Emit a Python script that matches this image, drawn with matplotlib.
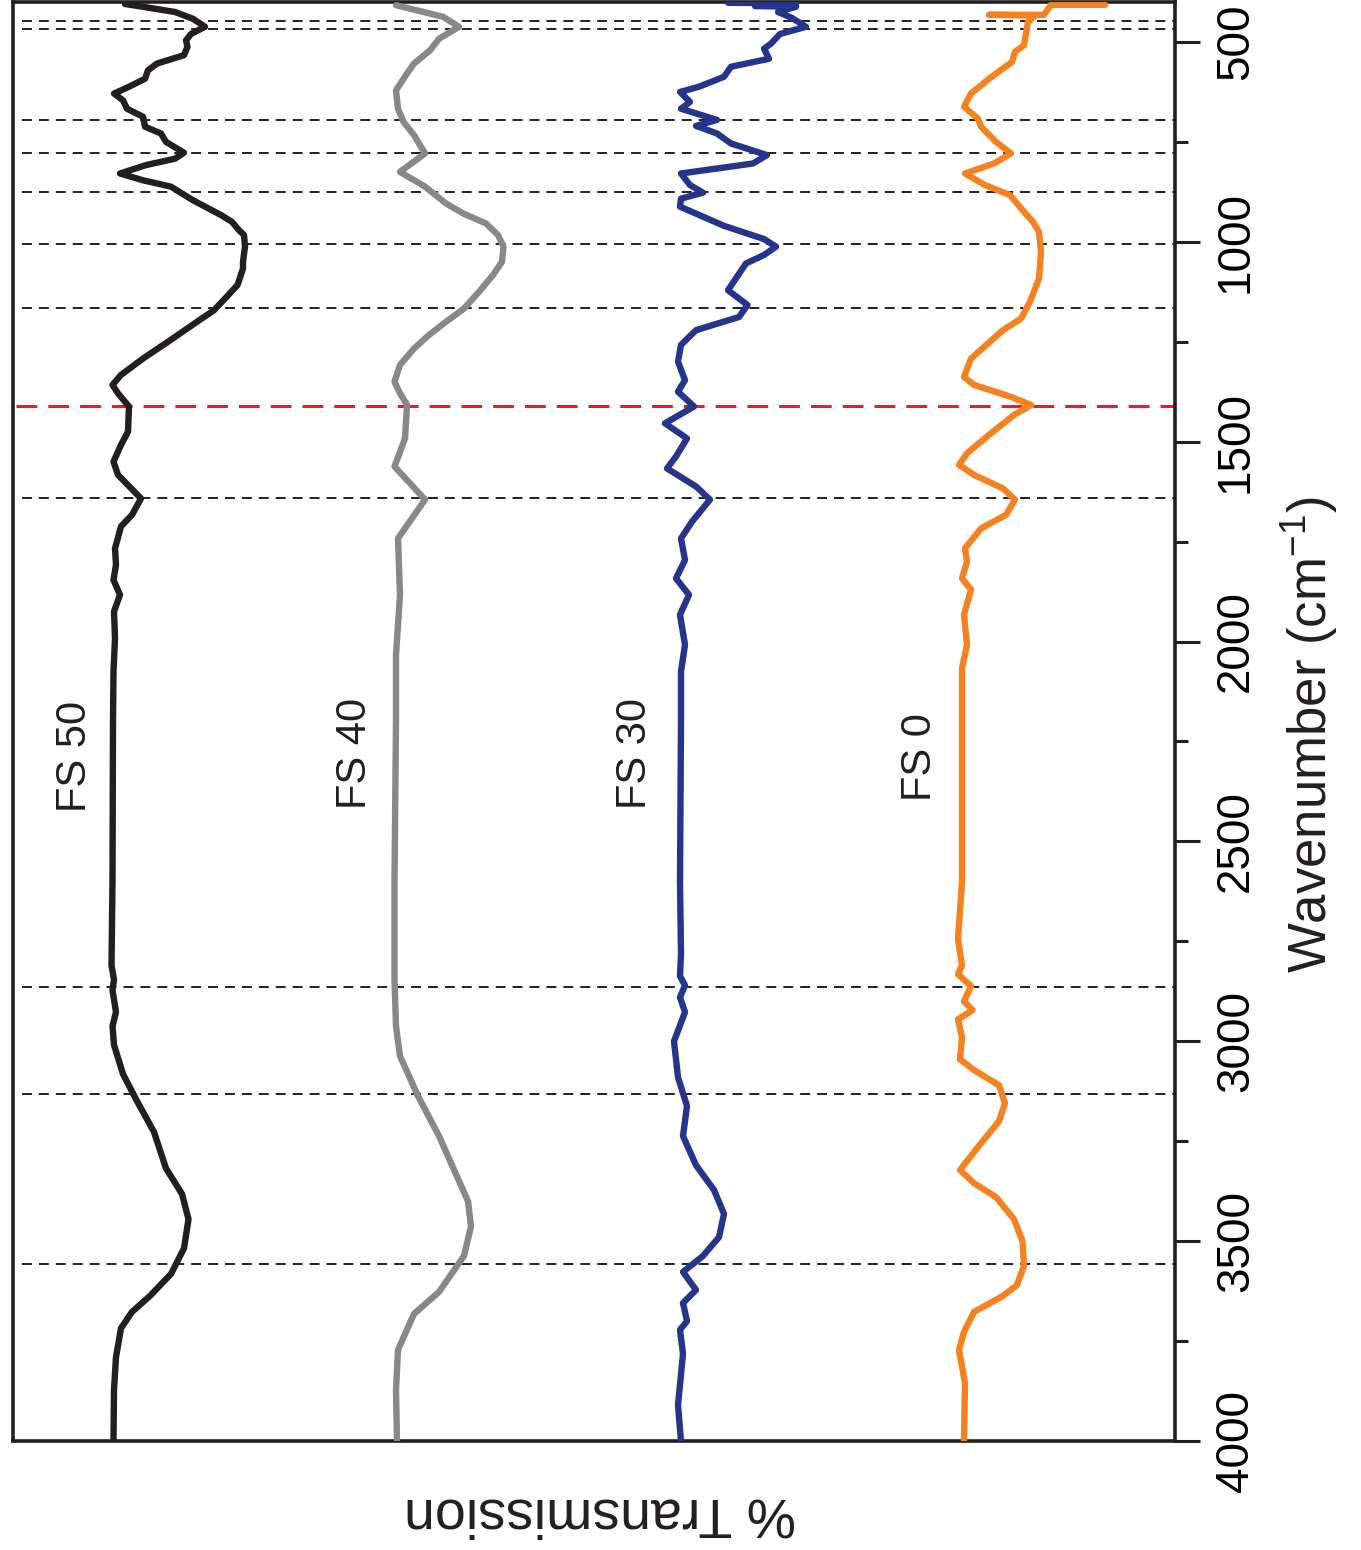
import matplotlib.pyplot as plt

# FTIR spectra (wavenumber in cm-1, transmission in arbitrary offset units)
fs50_wn = [405, 412, 425, 442, 462, 480, 496, 512, 533, 554, 571, 592, 612, 629, 646, 667, 687, 712,
           729, 750, 777, 792, 808, 829, 846, 862, 896, 933, 950, 971, 983, 1012, 1050, 1067, 1108,
           1142, 1171, 1200, 1250, 1292, 1333, 1358, 1379, 1412, 1475, 1508, 1550, 1583, 1642, 1683,
           1712, 1767, 1808, 1846, 1883, 1925, 1992, 2075, 2200, 2600, 2810, 2845, 2872, 2927, 2962,
           3009, 3082, 3145, 3227, 3318, 3382, 3445, 3518, 3582, 3637, 3677, 3718, 3790, 3872, 4000]
fs50_t = [105.0, 103.2, 100.0, 98.2, 97.0, 98.4, 98.9, 98.75, 99.1, 101.8, 102.7, 103.0, 104.6, 106.1,
          105.2, 104.8, 103.2, 103.0, 101.4, 100.9, 99.1, 100.0, 102.9, 105.5, 103.2, 100.4, 98.2, 95.4,
          94.3, 93.6, 93.1, 93.0, 93.2, 93.2, 93.75, 95.0, 96.1, 97.8, 100.7, 103.2, 105.4, 106.25,
          105.7, 104.6, 104.7, 105.4, 106.15, 105.7, 103.4, 104.3, 105.4, 106.0, 105.9, 106.15, 105.5,
          106.1, 106.0, 106.15, 106.2, 106.25, 106.35, 106.1, 106.25, 105.9, 106.25, 106.1, 105.2, 103.9,
          102.1, 100.9, 99.3, 98.65, 99.1, 100.4, 102.5, 104.3, 105.4, 105.9, 106.1, 106.15]

fs40_wn = [408, 437, 462, 492, 521, 554, 579, 621, 667, 700, 733, 779, 825, 862, 904, 930, 954, 983,
           1012, 1050, 1083, 1125, 1167, 1200, 1233, 1267, 1308, 1350, 1379, 1408, 1492, 1562, 1645,
           1742, 1883, 2033, 2200, 2600, 2845, 2962, 3037, 3137, 3237, 3327, 3400, 3463, 3537, 3627,
           3682, 3772, 3872, 4000]
fs40_t = [77.9, 73.2, 71.6, 73.6, 74.5, 76.1, 76.8, 77.9, 77.7, 77.15, 76.1, 75.0, 77.5, 75.0, 72.9,
          71.1, 68.9, 67.7, 67.15, 67.3, 68.2, 69.6, 71.1, 72.9, 74.6, 76.1, 77.5, 78.05, 77.5, 76.8,
          77.0, 78.05, 75.0, 77.7, 77.5, 77.9, 77.9, 78.05, 78.05, 77.9, 77.5, 75.7, 73.6, 72.0, 70.7,
          70.4, 71.1, 73.6, 76.1, 77.7, 77.9, 77.8]

fs30_wn = [402, 403, 410, 412, 425, 440, 462, 480, 504, 517, 542, 562, 587, 612, 625, 650, 667, 695,
           710, 729, 754, 783, 804, 829, 858, 877, 892, 912, 960, 993, 1012, 1033, 1054, 1121, 1158,
           1188, 1221, 1258, 1300, 1346, 1375, 1412, 1454, 1492, 1537, 1567, 1612, 1645, 1700, 1742,
           1796, 1842, 1883, 1933, 2008, 2075, 2200, 2600, 2782, 2837, 2860, 2890, 2927, 3000, 3090,
           3162, 3237, 3310, 3372, 3432, 3490, 3537, 3577, 3622, 3655, 3700, 3722, 3782, 3910, 4000]
fs30_t = [44.7, 37.9, 42.0, 37.9, 39.7, 38.3, 36.9, 39.5, 40.4, 41.1, 40.6, 44.4, 45.1, 47.6, 49.5,
          48.5, 49.4, 45.8, 47.9, 45.8, 44.4, 40.8, 42.2, 49.4, 48.5, 47.2, 49.4, 49.5, 45.1, 41.1, 39.9,
          41.1, 42.9, 44.7, 42.75, 43.6, 47.9, 49.4, 49.7, 49.0, 49.7, 48.1, 51.0, 48.8, 49.9, 50.8,
          47.9, 46.5, 48.3, 49.4, 49.0, 49.9, 48.6, 49.5, 49.0, 49.4, 49.4, 49.5, 49.4, 49.5, 49.0,
          49.5, 49.0, 50.1, 49.7, 48.8, 49.2, 47.9, 46.1, 45.1, 45.6, 47.2, 49.2, 47.9, 49.2, 48.8,
          49.5, 49.2, 49.7, 49.4]

fs0_wn = [407, 407, 432, 432, 434, 450, 508, 525, 550, 592, 629, 662, 692, 712, 750, 779, 804, 829,
          858, 883, 925, 950, 975, 1025, 1092, 1150, 1192, 1221, 1292, 1338, 1358, 1387, 1408, 1433,
          1483, 1529, 1558, 1583, 1617, 1645, 1683, 1717, 1767, 1800, 1842, 1870, 1933, 2008, 2067,
          2200, 2600, 2745, 2810, 2832, 2862, 2900, 2922, 2945, 2990, 3045, 3072, 3110, 3155, 3200,
          3255, 3322, 3355, 3390, 3445, 3500, 3562, 3610, 3637, 3677, 3727, 3772, 3855, 4000]
fs0_t = [7.0, 12.4, 13.1, 18.6, 14.0, 14.7, 15.1, 16.0, 16.3, 18.6, 20.4, 21.1, 19.7, 19.4, 17.9,
         16.4, 18.1, 21.0, 19.0, 16.5, 15.1, 14.2, 13.6, 13.4, 13.6, 14.5, 15.4, 17.2, 20.4, 21.1, 20.1,
         16.5, 14.4, 16.1, 18.6, 20.8, 21.6, 20.1, 17.2, 16.0, 16.9, 19.4, 21.0, 20.8, 21.3, 20.4, 21.1,
         20.8, 21.3, 21.3, 21.3, 21.7, 21.3, 21.7, 20.4, 21.1, 20.25, 21.7, 21.3, 21.5, 20.1, 17.6, 17.0,
         17.6, 19.4, 21.5, 20.1, 17.9, 16.1, 15.25, 15.1, 15.8, 17.2, 20.1, 21.1, 21.6, 21.0, 21.1]

band_lines = [447, 468, 696, 778, 876, 1005, 1166, 1640, 2863, 3132, 3556]
red_line = 1410

plt.rcParams['font.family'] = ['Liberation Sans', 'DejaVu Sans']
plt.rcParams['mathtext.default'] = 'regular'

fig = plt.figure(figsize=(13.61, 15.5), dpi=100)
ax = fig.add_axes([13 / 1361, 1 - 1441 / 1550, 1162 / 1361, 1439 / 1550])

for w in band_lines:
    ax.axhline(w, xmin=0.008, xmax=1, color='#231f20', lw=1.4, dashes=(5.1, 3.6), zorder=1)
ax.axhline(red_line, xmin=0.003, xmax=1, color='#ed1c24', lw=2.2, dashes=(6.8, 3.6), zorder=1)

style = dict(lw=4.6, solid_joinstyle='round', solid_capstyle='round', zorder=3)
ax.plot(fs50_t, fs50_wn, color='#231f20', **style)
ax.plot(fs40_t, fs40_wn, color='#87888a', **style)
ax.plot(fs30_t, fs30_wn, color='#25358b', **style)
ax.plot(fs0_t, fs0_wn, color='#f58220', **style)

ax.set_xlim(116.2, 0)
ax.set_ylim(4000, 400)
ax.set_xticks([])

ax.yaxis.tick_right()
ax.set_yticks(range(500, 4001, 500))
ax.set_yticks(range(750, 4000, 500), minor=True)
ax.set_yticklabels([str(v) for v in range(500, 4001, 500)], rotation=90, va='center',
                   family=['Liberation Sans Narrow', 'Liberation Sans'], fontsize=33)
ax.tick_params(axis='y', which='major', length=18, width=2.2, pad=10, color='#231f20')
ax.tick_params(axis='y', which='minor', length=9, width=2.2, color='#231f20')
for s in ax.spines.values():
    s.set_linewidth(2.6)
    s.set_color('#231f20')

# curve labels
ax.text(110.0, 2287, 'FS 50', rotation=90, ha='center', va='center', fontsize=30, color='#231f20')
ax.text(82.0, 2280, 'FS 40', rotation=90, ha='center', va='center', fontsize=30, color='#231f20')
ax.text(54.0, 2280, 'FS 30', rotation=90, ha='center', va='center', fontsize=30, color='#231f20')
ax.text(25.5, 2290, 'FS 0', rotation=90, ha='center', va='center', fontsize=30, color='#231f20')

fig.text(1310 / 1361, 1 - 735 / 1550, 'Wavenumber (cm$^{-1}$)', rotation=90, ha='center',
         va='center', fontsize=38, color='#231f20')
fig.text(600 / 1361, 1 - 1512 / 1550, '% Transmission', rotation=180, ha='center', va='center',
         fontsize=40, color='#231f20')

fig.savefig('out.png', dpi=100)
